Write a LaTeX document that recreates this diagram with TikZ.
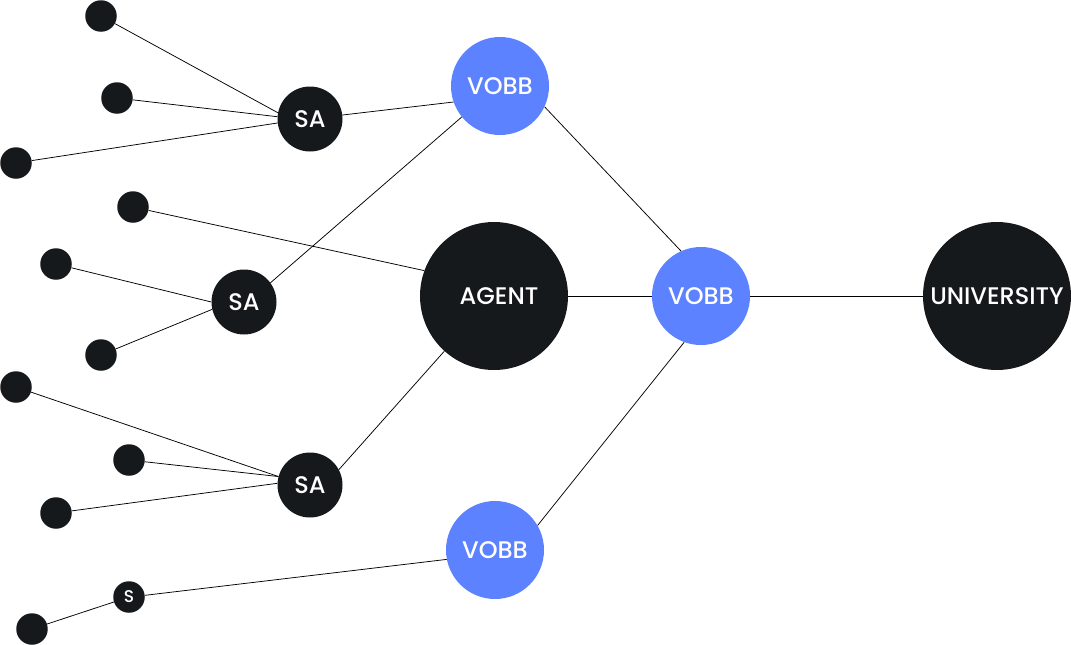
\documentclass[tikz,border=0pt]{standalone}
\usepackage{fontspec}
\setmainfont{Poppins}[UprightFont=* Medium]
\definecolor{ink}{HTML}{16191B}
\definecolor{vblue}{HTML}{5C82FF}
\begin{document}
\begin{tikzpicture}[x=1pt,y=-1pt,
  dot/.style={circle,fill=ink,inner sep=0pt,minimum size=31.5pt},
  small/.style={circle,fill=ink,inner sep=0pt,minimum size=31.5pt,text=white,font=\fontsize{17}{17}\selectfont},
  sa/.style={circle,fill=ink,inner sep=0pt,minimum size=65pt,text=white,font=\fontsize{24}{24}\selectfont},
  vobb/.style={circle,fill=vblue,inner sep=0pt,minimum size=98pt,text=white,font=\fontsize{24}{24}\selectfont},
  big/.style={circle,fill=ink,inner sep=0pt,minimum size=148pt,text=white,font=\fontsize{24}{24}\selectfont},
  link/.style={draw=black,line width=0.75pt}]
\useasboundingbox (0,0) rectangle (1071,645);
% nodes
\node[dot] (d1) at (101,16) {};
\node[dot] (d2) at (117,98) {};
\node[dot] (d3) at (16,163) {};
\node[sa] (sa1) at (310,119) {SA};
\node[vobb] (v1) at (500,86) {VOBB};
\node[dot] (d4) at (133,207) {};
\node[dot] (d5) at (56,264) {};
\node[sa] (sa2) at (244,302) {SA};
\node[big] (ag) at (494,296) {\hspace*{10pt}AGENT};
\node[vobb] (v2) at (701,296) {VOBB};
\node[big] (un) at (997,296) {UNIVERSITY};
\node[dot] (d6) at (101,355) {};
\node[dot] (d7) at (16,387) {};
\node[dot] (d8) at (129,460) {};
\node[dot] (d9) at (56,513) {};
\node[sa] (sa3) at (310,485) {SA};
\node[vobb] (v3) at (495,550) {VOBB};
\node[small] (s) at (129,597) {S};
\node[dot] (d10) at (32,629) {};
% connectors
\draw[link] (d1) -- (sa1.169);
\draw[link] (d2) -- (sa1.176);
\draw[link] (d3) -- (sa1.187);
\draw[link] (sa1.7) -- (v1.199);
\draw[link] (d4) -- (ag.160);
\draw[link] (d5) -- (sa2.180);
\draw[link] (d6) -- (sa2.193);
\draw[link] (sa2.36) -- (v1.219);
\draw[link] (ag) -- (v2);
\draw[link] (v2) -- (un);
\draw[link] (v1.-25) -- (v2.114);
\draw[link] (v3.30) -- (v2.250);
\draw[link] (d7) -- (sa3.165);
\draw[link] (d8) -- (sa3.165);
\draw[link] (d9) -- (sa3.177);
\draw[link] (sa3.28) -- (ag.228);
\draw[link] (s.6) -- (v3.191);
\draw[link] (d10) -- (s);
\end{tikzpicture}
\end{document}
